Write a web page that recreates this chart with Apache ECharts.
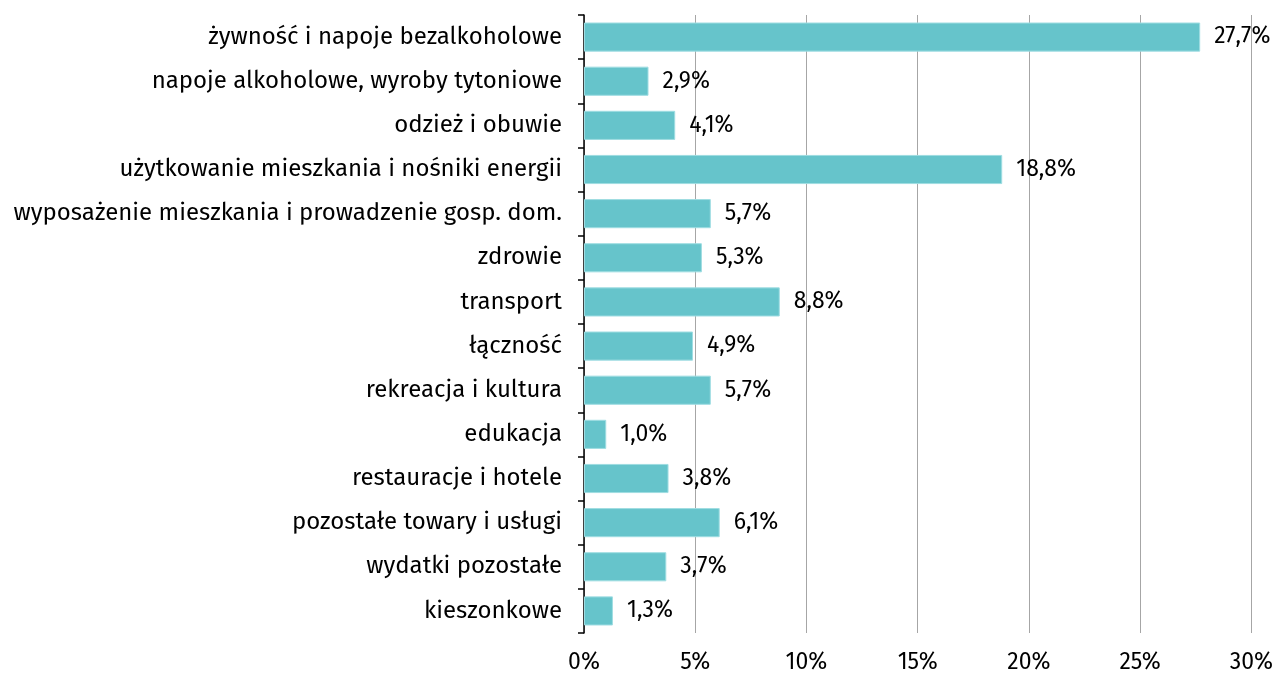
<!DOCTYPE html>
<html>
<head>
<meta charset="utf-8">
<script src="https://cdn.jsdelivr.net/npm/echarts@6/dist/echarts.min.js"></script>
<style>
  html, body { margin: 0; padding: 0; background: #fff; }
  #chart { width: 1276px; height: 674px; }
</style>
</head>
<body>
<div id="chart"></div>
<script>
// kategorie wydatków (od góry do dołu)
var categories = [
  'żywność i napoje bezalkoholowe',
  'napoje alkoholowe, wyroby tytoniowe',
  'odzież i obuwie',
  'użytkowanie mieszkania i nośniki energii',
  'wyposażenie mieszkania i prowadzenie gosp. dom.',
  'zdrowie',
  'transport',
  'łączność',
  'rekreacja i kultura',
  'edukacja',
  'restauracje i hotele',
  'pozostałe towary i usługi',
  'wydatki pozostałe',
  'kieszonkowe'
];
var shares = [27.7, 2.9, 4.1, 18.8, 5.7, 5.3, 8.8, 4.9, 5.7, 1.0, 3.8, 6.1, 3.7, 1.3];
var xTicks = [0, 5, 10, 15, 20, 25, 30];

var chart = echarts.init(document.getElementById('chart'));
var font = '"Fira Sans", "Open Sans", "Noto Sans", sans-serif';

chart.setOption({
  animation: false,
  grid: { left: 584, right: 23, top: 15, bottom: 41, containLabel: false },
  xAxis: {
    type: 'value',
    min: xTicks[0],
    max: xTicks[xTicks.length - 1],
    interval: 5,
    axisLine: { show: false },
    axisTick: { show: false },
    splitLine: { show: true, lineStyle: { color: '#a6a6a6', width: 1 } },
    axisLabel: {
      color: '#000', fontSize: 23, fontFamily: font, margin: 18,
      formatter: function (v) { return v + '%'; }
    }
  },
  yAxis: {
    type: 'category',
    inverse: true,
    data: categories,
    axisLine: { show: true, lineStyle: { color: '#000', width: 1.5 } },
    axisTick: { show: true, length: 6, lineStyle: { color: '#000', width: 1.5 } },
    axisLabel: { color: '#000', fontSize: 24, fontFamily: font, margin: 22 }
  },
  series: [{
    type: 'bar',
    data: shares,
    barCategoryGap: '34%',
    itemStyle: { color: '#66c4cb', borderColor: '#9fdde2', borderWidth: 1 },
    label: {
      show: true,
      position: 'right',
      distance: 14,
      color: '#000',
      fontSize: 23,
      fontFamily: font,
      formatter: function (p) { return p.value.toFixed(1).replace('.', ',') + '%'; }
    }
  }]
});
</script>
</body>
</html>
